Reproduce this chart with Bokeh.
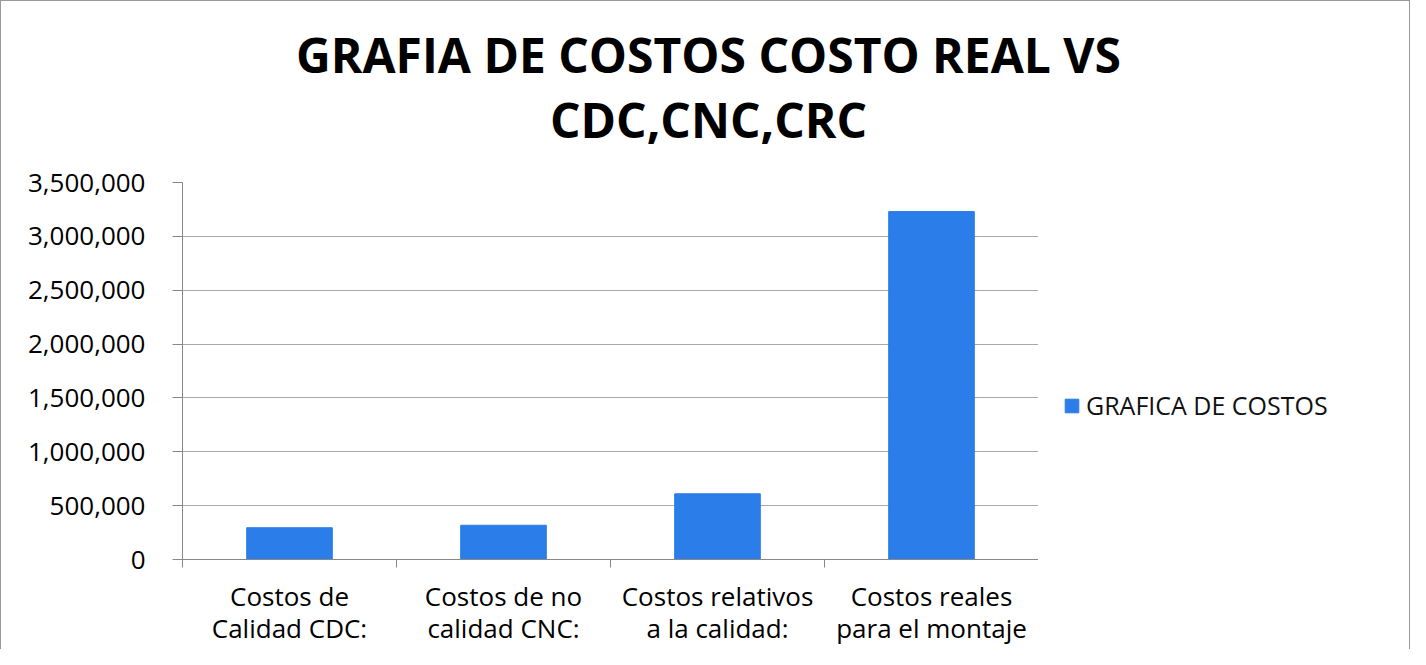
from bokeh.plotting import figure
from bokeh.layouts import column, row
from bokeh.models import (Range1d, FixedTicker, NumeralTickFormatter, Legend, LegendItem, Label,
                          ColumnDataSource)
from bokeh.embed import file_html
from bokeh.resources import INLINE

categories = ["Costos de\nCalidad CDC:", "Costos de no\ncalidad CNC:",
              "Costos relativos\na la calidad:", "Costos reales\npara el montaje"]
values = [295000, 318000, 610000, 3230000]
y_ticks = [0, 500000, 1000000, 1500000, 2000000, 2500000, 3000000, 3500000]
series_name = "GRAFICA DE COSTOS"
title_lines = ["GRAFIA DE COSTOS COSTO REAL VS", "CDC,CNC,CRC"]

FONT = "Open Sans"
BAR = "#2B7DE9"
GRID = "#A8A8A8"
AXIS = "#888888"


def blank(fig):
    fig.axis.visible = False
    fig.grid.visible = False
    fig.outline_line_color = None
    fig.background_fill_color = "white"
    fig.border_fill_color = "white"


n = len(categories)
centers = [i + 0.5 for i in range(n)]
source = ColumnDataSource(data=dict(x=centers, top=values))

# ---- title strip ----
pt = figure(width=1408, height=161, output_backend="svg", toolbar_location=None,
            x_range=Range1d(0, 1), y_range=Range1d(0, 1),
            min_border_left=0, min_border_right=0, min_border_top=0, min_border_bottom=0)
blank(pt)
for txt, yy in zip(title_lines, [108, 43]):
    pt.add_layout(Label(x=707, y=yy, x_units="screen", y_units="screen", text=txt,
                        text_align="center", text_baseline="alphabetic", text_font=FONT,
                        text_font_size="48px", text_font_style="bold", text_color="#000000"))

# ---- main chart ----
p = figure(frame_width=856, frame_height=377, output_backend="svg", toolbar_location=None,
           x_range=Range1d(0, n), y_range=Range1d(0, 3500000),
           min_border_left=181, min_border_right=0, min_border_top=20, min_border_bottom=90)
p.outline_line_color = None
p.background_fill_color = "white"
p.border_fill_color = "white"

r = p.vbar(x="x", top="top", source=source, width=0.4, fill_color=BAR, line_color=BAR)

p.xaxis.ticker = FixedTicker(ticks=centers, minor_ticks=list(range(n + 1)))
p.xaxis.major_label_overrides = {c: lab for c, lab in zip(centers, categories)}
p.xaxis.major_tick_out = 0
p.xaxis.major_tick_in = 0
p.xaxis.minor_tick_out = 8
p.xaxis.minor_tick_in = 0
p.xaxis.minor_tick_line_color = AXIS
p.xaxis.axis_line_color = AXIS
p.xaxis.major_label_text_font = FONT
p.xaxis.major_label_text_font_size = "26px"
p.xaxis.major_label_text_line_height = 0.9
p.xaxis.major_label_text_color = "#000000"
p.xaxis.major_label_standoff = 10

p.yaxis.ticker = FixedTicker(ticks=y_ticks)
p.yaxis.formatter = NumeralTickFormatter(format="0,0")
p.yaxis.minor_tick_line_color = None
p.yaxis.major_tick_out = 10
p.yaxis.major_tick_in = 0
p.yaxis.major_tick_line_color = AXIS
p.yaxis.axis_line_color = AXIS
p.yaxis.major_label_text_font = FONT
p.yaxis.major_label_text_font_size = "26px"
p.yaxis.major_label_text_color = "#000000"
p.yaxis.major_label_standoff = 27

p.xgrid.grid_line_color = None
p.ygrid.grid_line_color = GRID
p.ygrid.grid_line_width = 1

# ---- legend strip (same series, renderer hidden; only its legend entry shows) ----
pl = figure(width=371, height=487, output_backend="svg", toolbar_location=None,
            x_range=Range1d(0, 1), y_range=Range1d(0, 1),
            min_border_left=0, min_border_right=0, min_border_top=0, min_border_bottom=0)
blank(pl)
rl = pl.vbar(x="x", top="top", source=source, width=0.4, fill_color=BAR, line_color=BAR,
             visible=False)
legend = Legend(items=[LegendItem(label=series_name, renderers=[rl])], location=(25, 137),
                label_text_font=FONT, label_text_font_size="25px", label_text_color="#111111",
                glyph_width=17, glyph_height=17, border_line_color=None, background_fill_alpha=0,
                inactive_fill_alpha=0, margin=0, padding=0, label_standoff=6,
                click_policy="none")
pl.add_layout(legend, "center")

layout = column(pt, row(p, pl, spacing=0), spacing=0)
layout.styles = {"border-top": "1px solid #999999", "border-left": "1px solid #999999",
                 "border-right": "1px solid #999999"}

open("out.html", "w").write(file_html(layout, INLINE))
